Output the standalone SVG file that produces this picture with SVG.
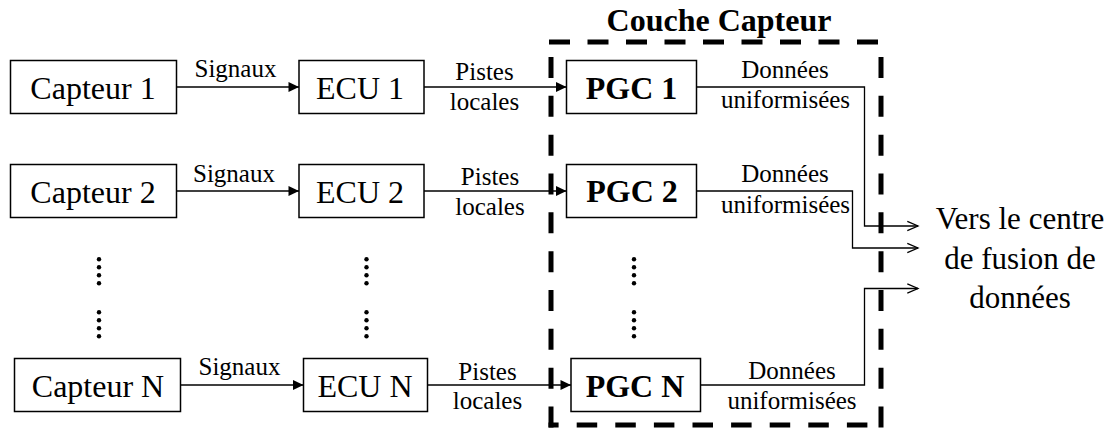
<svg xmlns="http://www.w3.org/2000/svg" width="1116" height="431" viewBox="0 0 1116 431">
<style>
.box{fill:#fff;stroke:#000;stroke-width:1.5}
.t{font-family:"Liberation Serif","Times New Roman",serif;font-size:32px;fill:#000;text-anchor:middle}
.b{font-weight:bold}
.l{font-family:"Liberation Serif","Times New Roman",serif;font-size:25px;fill:#000;text-anchor:middle}
.c{fill:none;stroke:#000;stroke-width:1.3}
.d{fill:none;stroke:#000;stroke-width:5}
.dot{fill:#000}
</style>
<defs>
<marker id="fa" markerUnits="userSpaceOnUse" markerWidth="12" markerHeight="11" refX="10.5" refY="5" orient="auto" overflow="visible">
<path d="M0,0 L10.5,5 L0,10 z" fill="#000"/>
</marker>
<marker id="oa" markerUnits="userSpaceOnUse" markerWidth="12" markerHeight="11" refX="10.7" refY="4.7" orient="auto" overflow="visible">
<path d="M0,0 L10.7,4.7 L0,9.4" fill="none" stroke="#000" stroke-width="1.3"/>
</marker>
</defs>

<g id="layer">
<text class="t b" x="719" y="31">Couche Capteur</text>
<line class="d" x1="548.5" y1="42" x2="883.5" y2="42" stroke-dasharray="21 17.5" stroke-dashoffset="-0.5"/>
<line class="d" x1="551" y1="57" x2="551" y2="427.5" stroke-dasharray="21 17.83"/>
<line class="d" x1="881" y1="57" x2="881" y2="427.5" stroke-dasharray="21 17.83"/>
<line class="d" x1="548.5" y1="425" x2="870" y2="425" stroke-dasharray="20.5 18.1" stroke-dashoffset="10.4"/>
</g>

<g id="connectors">
<line class="c" x1="176.5" y1="87" x2="299" y2="87" marker-end="url(#fa)"/>
<line class="c" x1="424" y1="87" x2="566.5" y2="87" marker-end="url(#fa)"/>
<path class="c" d="M696.5,87 H864.5 V226 H918" marker-end="url(#oa)"/>
<line class="c" x1="176.5" y1="191" x2="299" y2="191" marker-end="url(#fa)"/>
<line class="c" x1="424" y1="191" x2="566.5" y2="191" marker-end="url(#fa)"/>
<path class="c" d="M696.5,191 H852.5 V248 H918" marker-end="url(#oa)"/>
<line class="c" x1="180.5" y1="385" x2="303.5" y2="385" marker-end="url(#fa)"/>
<line class="c" x1="427.5" y1="385" x2="571" y2="385" marker-end="url(#fa)"/>
<path class="c" d="M700.5,385 H864.5 V288.5 H918" marker-end="url(#oa)"/>
<text class="l" x="235.5" y="77">Signaux</text>
<text class="l" x="484.5" y="80">Pistes</text>
<text class="l" x="484.5" y="110">locales</text>
<text class="l" x="785" y="78">Données</text>
<text class="l" x="785.5" y="108">uniformisées</text>
<text class="l" x="234" y="181.5">Signaux</text>
<text class="l" x="490" y="185">Pistes</text>
<text class="l" x="490" y="215">locales</text>
<text class="l" x="785" y="182">Données</text>
<text class="l" x="785.5" y="213">uniformisées</text>
<text class="l" x="239.5" y="375">Signaux</text>
<text class="l" x="487.5" y="380">Pistes</text>
<text class="l" x="487.5" y="409">locales</text>
<text class="l" x="792" y="379">Données</text>
<text class="l" x="792" y="409">uniformisées</text>
</g>

<g id="capteur1"><rect class="box" x="10.5" y="60.5" width="166" height="53"/><text class="t" x="93" y="99">Capteur 1</text></g>
<g id="ecu1"><rect class="box" x="299" y="60.5" width="125" height="53"/><text class="t" x="360" y="99">ECU 1</text></g>
<g id="pgc1"><rect class="box" x="566.5" y="60.5" width="130" height="53"/><text class="t b" x="631.5" y="99">PGC 1</text></g>

<g id="capteur2"><rect class="box" x="10.5" y="164.5" width="166" height="53"/><text class="t" x="93" y="203">Capteur 2</text></g>
<g id="ecu2"><rect class="box" x="299" y="164.5" width="125" height="53"/><text class="t" x="360" y="203">ECU 2</text></g>
<g id="pgc2"><rect class="box" x="566.5" y="164.5" width="130" height="53"/><text class="t b" x="632" y="202">PGC 2</text></g>

<g id="capteurN"><rect class="box" x="14.5" y="358.5" width="166" height="53"/><text class="t" x="98" y="397">Capteur N</text></g>
<g id="ecuN"><rect class="box" x="303.5" y="358.5" width="124" height="53"/><text class="t" x="365" y="397">ECU N</text></g>
<g id="pgcN"><rect class="box" x="571" y="358.5" width="129.5" height="53"/><text class="t b" x="635" y="397">PGC N</text></g>

<g id="ellipsis">
<circle class="dot" cx="99" cy="259.3" r="2.2"/><circle class="dot" cx="99" cy="267.3" r="2.2"/><circle class="dot" cx="99" cy="275.3" r="2.2"/><circle class="dot" cx="99" cy="283.3" r="2.2"/>
<circle class="dot" cx="99" cy="312.3" r="2.2"/><circle class="dot" cx="99" cy="320.3" r="2.2"/><circle class="dot" cx="99" cy="328.3" r="2.2"/><circle class="dot" cx="99" cy="336.3" r="2.2"/>
<circle class="dot" cx="366.5" cy="259.3" r="2.2"/><circle class="dot" cx="366.5" cy="267.3" r="2.2"/><circle class="dot" cx="366.5" cy="275.3" r="2.2"/><circle class="dot" cx="366.5" cy="283.3" r="2.2"/>
<circle class="dot" cx="366.5" cy="312.3" r="2.2"/><circle class="dot" cx="366.5" cy="320.3" r="2.2"/><circle class="dot" cx="366.5" cy="328.3" r="2.2"/><circle class="dot" cx="366.5" cy="336.3" r="2.2"/>
<circle class="dot" cx="634" cy="259.3" r="2.2"/><circle class="dot" cx="634" cy="267.3" r="2.2"/><circle class="dot" cx="634" cy="275.3" r="2.2"/><circle class="dot" cx="634" cy="283.3" r="2.2"/>
<circle class="dot" cx="634" cy="312.3" r="2.2"/><circle class="dot" cx="634" cy="320.3" r="2.2"/><circle class="dot" cx="634" cy="328.3" r="2.2"/><circle class="dot" cx="634" cy="336.3" r="2.2"/>
</g>

<g id="destination">
<text class="t" x="1020" y="228.5" style="font-size:31px">Vers le centre</text>
<text class="t" x="1020" y="269" style="font-size:31px">de fusion de</text>
<text class="t" x="1020" y="308" style="font-size:31px">données</text>
</g>
</svg>
